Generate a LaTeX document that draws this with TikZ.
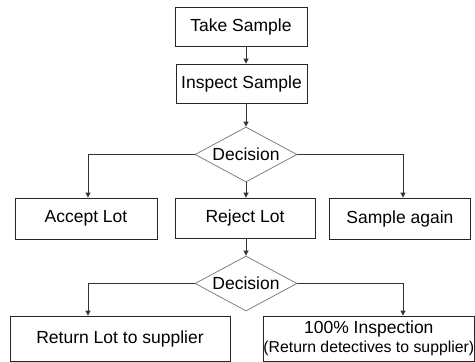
\documentclass[tikz,border=0pt]{standalone}
\usepackage{fontspec}
\setmainfont{Liberation Sans}
\usetikzlibrary{shapes.geometric,arrows.meta}
\begin{document}
\begin{tikzpicture}[x=1pt,y=-1pt,
  box/.style={draw=black!85, line width=0.8pt, inner sep=0pt, align=center,
    font=\fontsize{17.5}{20}\selectfont},
  dec/.style={diamond, aspect=1.85, draw=black!50, line width=0.8pt, inner sep=0pt,
    minimum width=102pt, minimum height=55pt, font=\fontsize{17.5}{20}\selectfont},
  arr/.style={draw=black!80, line width=0.8pt, -{Triangle[length=5pt,width=5pt]}}]
\useasboundingbox (0,0) rectangle (475,362);
\node[box, minimum width=132pt, minimum height=39pt] (take) at (241,26.5) {Take Sample};
\node[box, minimum width=131pt, minimum height=39pt] (insp) at (241.5,83.5) {Inspect Sample};
\node[dec] (d1) at (246,154.5) {Decision};
\node[box, minimum width=142pt, minimum height=41pt] (acc) at (86,218.5) {Accept Lot};
\node[box, minimum width=140pt, minimum height=40pt] (rej) at (245,218) {Reject Lot};
\node[box, minimum width=141pt, minimum height=41pt] (samp) at (400,218.5) {Sample again};
\node[dec] (d2) at (246,283.5) {Decision};
\node[box, minimum width=220pt, minimum height=45pt] (ret) at (120,338.5) {Return Lot to supplier};
\node[box, minimum width=211.6pt, minimum height=45pt] (full) at (368.8,338.5)
  {100\% Inspection\\[-1pt]{\fontsize{15.8}{18}\selectfont (Return detectives to supplier)}};
\coordinate (cl) at (88,0);
\coordinate (cr) at (403,0);
\draw[arr] (take.south -| d1.north) -- (insp.north -| d1.north);
\draw[arr] (insp.south -| d1.north) -- (d1.north);
\draw[arr] (d1.west) -| (cl |- acc.north);
\draw[arr] (d1.south) -- (d1.south |- rej.north);
\draw[arr] (d1.east) -| (cr |- samp.north);
\draw[arr] (d1.south |- rej.south) -- (d2.north);
\draw[arr] (d2.west) -| (cl |- ret.north);
\draw[arr] (d2.east) -| (cr |- full.north);
\end{tikzpicture}
\end{document}
